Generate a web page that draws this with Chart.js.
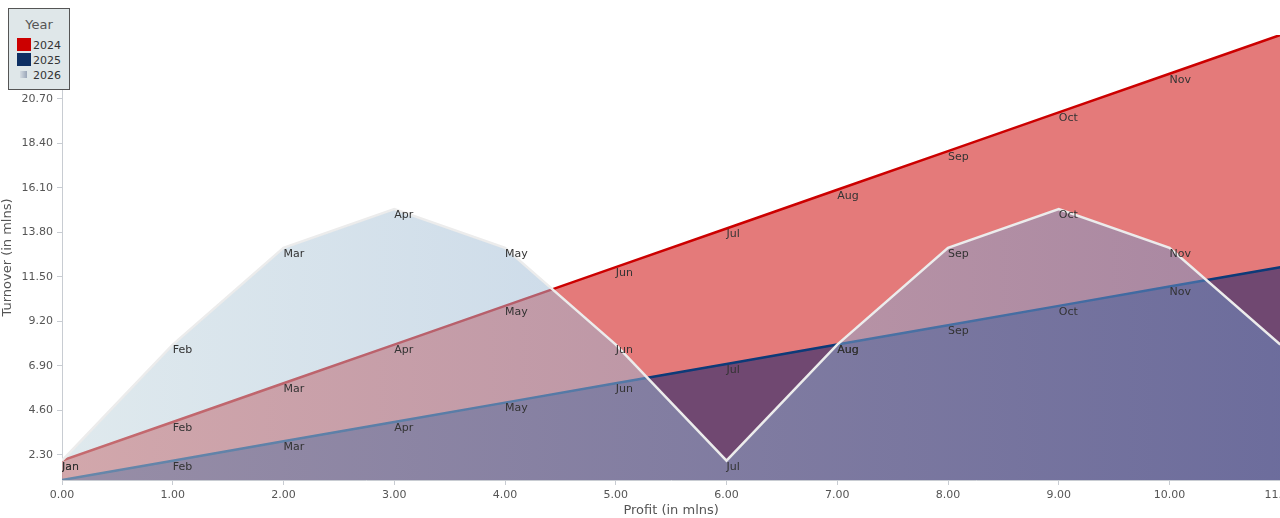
<!DOCTYPE html>
<html>
<head>
<meta charset="utf-8">
<script src="https://cdn.jsdelivr.net/npm/chart.js@4"></script>
<style>
  html,body{margin:0;padding:0;background:#fff;overflow:hidden;width:1280px;height:518px}
  #wrap{position:absolute;left:0;top:0;width:1300px;height:518px}
  #legend{position:absolute;left:8px;top:8px;width:60px;height:80px;background:#dfe7e9;border:1.5px solid #555;font-family:"DejaVu Sans",sans-serif}
  #legend .ttl{position:absolute;left:0;width:100%;top:8px;text-align:center;font-size:13px;color:#555}
  #legend .sw{position:absolute;left:8px;width:14px;height:13px}
  #legend .lb{position:absolute;left:24px;font-size:11px;color:#333;line-height:13px}
</style>
</head>
<body>
<div id="wrap"><canvas id="chart" width="1300" height="518"></canvas></div>
<div id="legend">
  <div class="ttl">Year</div>
  <div class="sw" style="top:29px;background:#cc0000"></div><div class="lb" style="top:29.5px">2024</div>
  <div class="sw" style="top:44px;background:#0d2f63"></div><div class="lb" style="top:44.5px">2025</div>
  <div class="sw" style="top:61.5px;left:11px;width:7px;height:7px;background:linear-gradient(90deg,#d4dce2,#9aa6b8)"></div><div class="lb" style="top:59.5px">2026</div>
</div>
<script>
// chart data
const months = ['Jan','Feb','Mar','Apr','May','Jun','Jul','Aug','Sep','Oct','Nov','Dec'];
const profit = [0,1,2,3,4,5,6,7,8,9,10,11];
const turnover2024 = [2,4,6,8,10,12,14,16,18,20,22,24];
const turnover2025 = [1,2,3,4,5,6,7,8,9,10,11,12];
const turnover2026 = [2,8,13,15,13,8,2,8,13,15,13,8];
const xTicks = [0,1,2,3,4,5,6,7,8,9,10,11];
const yTicks = [2.3,4.6,6.9,9.2,11.5,13.8,16.1,18.4,20.7];

const pts = arr => arr.map((v,i)=>({x:profit[i], y:v}));

// month names drawn next to every point, clipped to the plot area
const monthLabels = {
  id:'monthLabels',
  afterDatasetsDraw(chart){
    const {ctx, chartArea:a} = chart;
    ctx.save();
    ctx.beginPath(); ctx.rect(a.left, a.top, a.right-a.left, a.bottom-a.top); ctx.clip();
    ctx.font = '11px "DejaVu Sans"'; ctx.fillStyle = '#333';
    ctx.textAlign = 'left'; ctx.textBaseline = 'middle';
    chart.data.datasets.forEach((ds,i)=>{
      chart.getDatasetMeta(i).data.forEach((p,j)=>ctx.fillText(months[j], p.x, p.y+6));
    });
    ctx.restore();
  }
};

const grad2026 = (c)=>{
  const a = c.chart.chartArea;
  if(!a) return 'rgba(190,210,218,0.5)';
  const g = c.chart.ctx.createLinearGradient(a.left,0,a.right,0);
  g.addColorStop(0,'rgba(192,212,220,0.5)');
  g.addColorStop(1,'rgba(106,146,200,0.5)');
  return g;
};

const axisFont = {family:'"DejaVu Sans"', size:11};
const titleFont = {family:'"DejaVu Sans"', size:13};

new Chart(document.getElementById('chart'), {
  type:'line',
  data:{datasets:[
    {label:'2024', data:pts(turnover2024), borderColor:'#cc0000', backgroundColor:'rgba(204,0,0,0.52)', borderWidth:2.5, fill:'start', order:3},
    {label:'2025', data:pts(turnover2025), borderColor:'#0d3a78', backgroundColor:'rgba(40,40,106,0.62)', borderWidth:2.5, fill:'start', order:2},
    {label:'2026', data:pts(turnover2026), borderColor:'#ececec', backgroundColor:grad2026, borderWidth:2.5, fill:'start', order:1}
  ]},
  options:{
    responsive:false, animation:false,
    layout:{padding:{top:35,left:0,right:0,bottom:0}},
    elements:{point:{radius:0}, line:{tension:0}},
    plugins:{legend:{display:false}, tooltip:{enabled:false}},
    scales:{
      x:{type:'linear', min:0, max:11,
        afterBuildTicks:s=>{ s.ticks = xTicks.map(v=>({value:v})); },
        afterFit:s=>{ s.height = 38; },
        ticks:{font:axisFont, color:'#555', padding:4, maxRotation:0, callback:v=>v.toFixed(2)},
        grid:{drawOnChartArea:false, tickLength:5, color:'#c8ccd2'},
        border:{color:'#c8ccd2'},
        title:{display:true, text:'Profit (in mlns)', font:titleFont, color:'#555', padding:{top:0,bottom:0}}
      },
      y:{min:1, max:24,
        afterBuildTicks:s=>{ s.ticks = yTicks.map(v=>({value:v})); },
        afterFit:s=>{ s.width = 62; },
        ticks:{font:axisFont, color:'#555', padding:4, callback:v=>v.toFixed(2)},
        grid:{drawOnChartArea:false, tickLength:5, color:'#c8ccd2'},
        border:{color:'#c8ccd2'},
        title:{display:true, text:'Turnover (in mlns)', font:titleFont, color:'#555', padding:{top:0,bottom:0}}
      }
    }
  },
  plugins:[monthLabels]
});
</script>
</body>
</html>
